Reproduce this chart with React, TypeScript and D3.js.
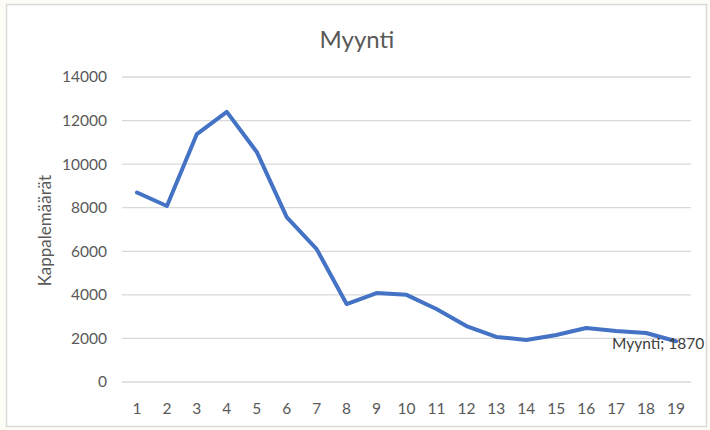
import { useEffect, useRef } from 'react'
import * as d3 from 'd3'

const categories = ['1', '2', '3', '4', '5', '6', '7', '8', '9', '10', '11', '12', '13', '14', '15', '16', '17', '18', '19']
const sales = [8700, 8080, 11380, 12400, 10560, 7570, 6100, 3580, 4085, 4000, 3350, 2570, 2070, 1930, 2160, 2480, 2340, 2250, 1870]
const yTicks = [0, 2000, 4000, 6000, 8000, 10000, 12000, 14000]

export default function App() {
  const ref = useRef<SVGSVGElement | null>(null)

  useEffect(() => {
    const width = 710
    const height = 430
    const svg = d3.select(ref.current)
    svg.selectAll('*').remove()
    svg.attr('width', width).attr('height', height)

    const font = 'Lato, "Open Sans", sans-serif'
    const textColor = '#595959'

    // faint page tint at the left edge, then the chart area
    svg.append('rect').attr('x', 0).attr('y', 0).attr('width', width).attr('height', height).attr('fill', '#fdfdf6')
    svg.append('rect')
      .attr('x', 6.5).attr('y', 4.5).attr('width', 700).attr('height', 422)
      .attr('fill', '#fff').attr('stroke', '#d9d9d9').attr('stroke-width', 1.5)

    const margin = { left: 122, right: 19, top: 77, bottom: 48 }
    const x = d3.scaleBand().domain(categories).range([margin.left, width - margin.right])
    const y = d3.scaleLinear().domain([0, 14000]).range([height - margin.bottom, margin.top])

    // gridlines
    svg.append('g')
      .selectAll('line')
      .data(yTicks)
      .enter()
      .append('line')
      .attr('x1', margin.left)
      .attr('x2', width - margin.right)
      .attr('y1', (d) => y(d))
      .attr('y2', (d) => y(d))
      .attr('stroke', '#d9d9d9')
      .attr('stroke-width', 1.3)

    svg.append('g')
      .selectAll('text')
      .data(yTicks)
      .enter()
      .append('text')
      .attr('x', 107)
      .attr('y', (d) => y(d))
      .attr('dy', '0.35em')
      .attr('text-anchor', 'end')
      .attr('fill', textColor)
      .style('font-family', font)
      .style('font-size', '15.5px')
      .text((d) => String(d))

    svg.append('g')
      .selectAll('text')
      .data(categories)
      .enter()
      .append('text')
      .attr('x', (d) => (x(d) as number) + x.bandwidth() / 2)
      .attr('y', 414)
      .attr('text-anchor', 'middle')
      .attr('fill', textColor)
      .style('font-family', font)
      .style('font-size', '15.5px')
      .text((d) => d)

    svg.append('text')
      .attr('x', width / 2 + 2)
      .attr('y', 48)
      .attr('text-anchor', 'middle')
      .attr('fill', textColor)
      .style('font-family', font)
      .style('font-size', '24px')
      .text('Myynti')

    svg.append('text')
      .attr('transform', `translate(51, ${y(6950)}) rotate(-90)`)
      .attr('text-anchor', 'middle')
      .attr('fill', textColor)
      .style('font-family', font)
      .style('font-size', '17px')
      .text('Kappalemäärät')

    const line = d3.line<number>()
      .x((_d, i) => (x(categories[i]) as number) + x.bandwidth() / 2)
      .y((d) => y(d))

    svg.append('path')
      .datum(sales)
      .attr('fill', 'none')
      .attr('stroke', '#4472c4')
      .attr('stroke-width', 4)
      .attr('stroke-linejoin', 'round')
      .attr('stroke-linecap', 'round')
      .attr('d', line)

    const last = sales.length - 1
    svg.append('text')
      .attr('x', (x(categories[last]) as number) + x.bandwidth() / 2 - 64)
      .attr('y', y(sales[last]) + 2)
      .attr('dy', '0.35em')
      .attr('fill', '#404040')
      .style('font-family', font)
      .style('font-size', '15.5px')
      .text(`Myynti; ${sales[last]}`)
  }, [])

  return <svg ref={ref} style={{ position: 'absolute', left: 0, top: 0, display: 'block' }} />
}
